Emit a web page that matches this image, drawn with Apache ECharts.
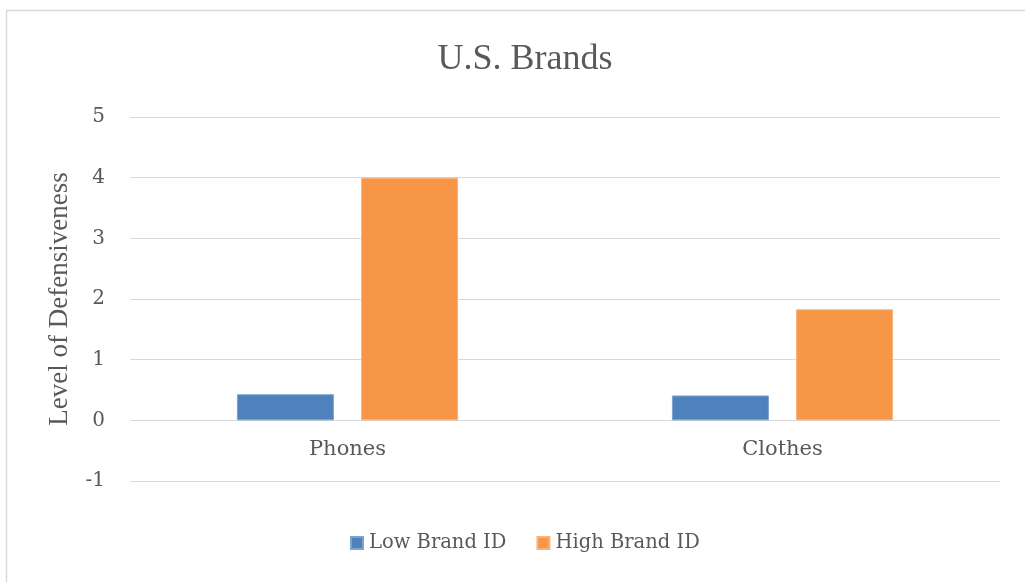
<!DOCTYPE html>
<html><head><meta charset="utf-8">
<script src="https://cdn.jsdelivr.net/npm/echarts@6/dist/echarts.min.js"></script>
<style>html,body{margin:0;padding:0;background:#fff}#c{width:1025px;height:582px}</style>
</head><body><div id="c"></div>
<script>
const categories = ["Phones", "Clothes"];
const lowBrandID = [0.43, 0.41];
const highBrandID = [4.0, 1.83];
const yTicks = [-1, 0, 1, 2, 3, 4, 5];

const chart = echarts.init(document.getElementById('c'), null, {renderer: 'canvas'});
const txt = '#595959';
chart.setOption({
  animation: false,
  backgroundColor: '#fff',
  graphic: [{type: 'rect', shape: {x: 6.5, y: 10.5, width: 1040, height: 600},
    style: {fill: 'none', stroke: '#d9d9d9', lineWidth: 1.5}, silent: true}],
  title: {text: 'U.S. Brands', left: 520, textAlign: 'center', top: 37,
    textStyle: {fontFamily: 'Liberation Serif', fontWeight: 'normal', fontSize: 36, color: txt}},
  legend: {top: 528, left: 345, itemWidth: 12, itemHeight: 12, itemGap: 30,
    icon: 'rect',
    textStyle: {fontFamily: 'DejaVu Serif', fontSize: 19.5, color: txt, padding: [0,0,0,1]},
    data: ['Low Brand ID', 'High Brand ID']},
  grid: {left: 130, right: 25, top: 117, bottom: 101, containLabel: false},
  xAxis: {type: 'category', data: categories,
    axisLine: {show: false, onZero: false},
    axisTick: {show: false},
    axisLabel: {margin: -31, verticalAlign: 'middle', fontFamily: 'DejaVu Serif', fontSize: 21, color: txt}},
  yAxis: {type: 'value', min: yTicks[0], max: yTicks[yTicks.length-1], interval: 1,
    name: 'Level of Defensiveness', nameLocation: 'middle', nameGap: 57,
    nameTextStyle: {fontFamily: 'Liberation Serif', fontSize: 27, color: txt},
    axisLine: {show: false}, axisTick: {show: false},
    axisLabel: {margin: 25, fontFamily: 'DejaVu Serif', fontSize: 20, color: txt},
    splitLine: {lineStyle: {color: '#d9d9d9', width: 1}}},
  series: [
    {name: 'Low Brand ID', type: 'bar', data: lowBrandID, barWidth: 97, barGap: '28%',
      itemStyle: {color: '#4F81BD', borderColor: '#7FA3CF', borderWidth: 1}},
    {name: 'High Brand ID', type: 'bar', data: highBrandID, barWidth: 97,
      itemStyle: {color: '#F79646', borderColor: '#F9B27A', borderWidth: 1}}
  ]
});
</script></body></html>
